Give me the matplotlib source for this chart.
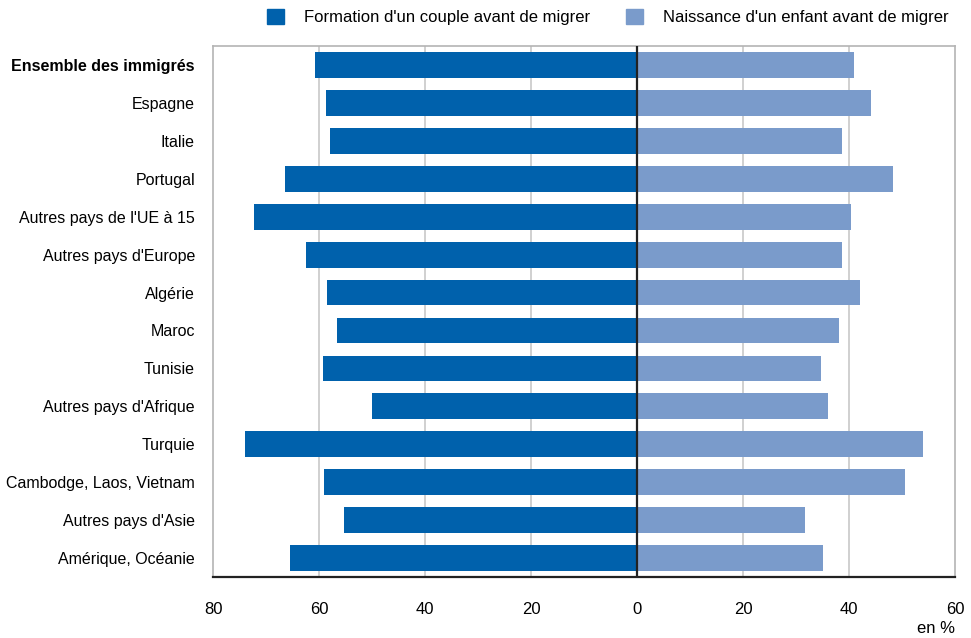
import matplotlib.pyplot as plt
from matplotlib import font_manager
from matplotlib.patches import Patch

# font: condensed look if available
names = {f.name for f in font_manager.fontManager.ttflist}
family = 'Liberation Sans Narrow' if 'Liberation Sans Narrow' in names else 'Liberation Sans'
plt.rcParams['font.family'] = [family, 'DejaVu Sans']

categories = ["Ensemble des immigrés", "Espagne", "Italie", "Portugal",
              "Autres pays de l'UE à 15", "Autres pays d'Europe", "Algérie",
              "Maroc", "Tunisie", "Autres pays d'Afrique", "Turquie",
              "Cambodge, Laos, Vietnam", "Autres pays d'Asie", "Amérique, Océanie"]
couple = [60.7, 58.7, 57.9, 66.4, 72.3, 62.5, 58.5, 56.6, 59.2, 50.0, 74.0, 59.1, 55.3, 65.5]
enfant = [40.9, 44.2, 38.7, 48.3, 40.4, 38.7, 42.1, 38.1, 34.7, 36.0, 54.0, 50.6, 31.7, 35.1]
xticks = [-80, -60, -40, -20, 0, 20, 40, 60]
xlabels = ['80', '60', '40', '20', '0', '20', '40', '60']

dark = '#0061AC'
light = '#7A9BCB'

fig = plt.figure(figsize=(9.71, 6.38), dpi=100)
ax = fig.add_axes([0.2194, 0.0956, 0.7641, 0.8323])

y = list(range(len(categories)))
ax.barh(y, [-v for v in couple], height=0.68, color=dark, zorder=3)
ax.barh(y, enfant, height=0.68, color=light, zorder=3)

ax.set_xlim(-80, 60)
ax.set_ylim(len(categories) - 0.5, -0.5)
ax.set_xticks(xticks)
ax.set_xticklabels(xlabels, fontsize=12)
ax.set_yticks(y)
ax.set_yticklabels(categories, fontsize=11.5)
ax.get_yticklabels()[0].set_fontweight('bold')
ax.tick_params(length=0)
ax.tick_params(axis='y', pad=13)
ax.tick_params(axis='x', pad=18)

for v in [-60, -40, -20, 20, 40]:
    ax.axvline(v, color='#c8c8c8', lw=1.2, zorder=1)
ax.axvline(0, color='#222222', lw=1.6, zorder=4)

for s in ['top', 'left', 'right']:
    ax.spines[s].set_color('#b4b4b4')
    ax.spines[s].set_linewidth(1.2)
ax.spines['bottom'].set_color('#222222')
ax.spines['bottom'].set_linewidth(1.6)

handles = [Patch(color=dark, label="Formation d'un couple avant de migrer"),
           Patch(color=light, label="Naissance d'un enfant avant de migrer")]
fig.legend(handles=handles, loc='center', bbox_to_anchor=(0.626, 0.973), ncol=2,
           frameon=False, fontsize=12, handlelength=1.0, handleheight=1.0,
           handletextpad=1.2, columnspacing=2.2)

fig.text(0.9835, 0.003, 'en %', ha='right', va='bottom', fontsize=12)

fig.savefig('out.png', dpi=100)
